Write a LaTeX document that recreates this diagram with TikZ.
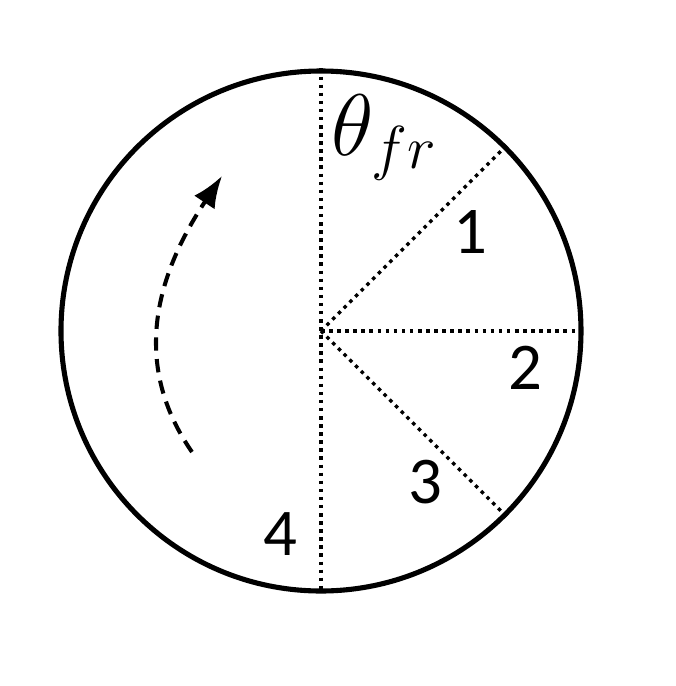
\documentclass[tikz,border=0pt]{standalone}
\usepackage{fontspec}
\setmainfont{Carlito}
\usetikzlibrary{arrows.meta}
\begin{document}
\begin{tikzpicture}[line width=1.45pt]
		\tikzset{spoke/.style={line width=1pt, dash pattern=on 1pt off 1.3pt},
			sector/.style={font=\fontsize{19}{22}\selectfont}}
		\useasboundingbox (-3.21,-3.55) rectangle (3.55,3.31);
		%wheel
		\node[circle, draw, minimum size=5.2cm, inner sep=0pt] (rim) at (0,0){};
		\coordinate (o) at (0,0);
		\draw[spoke] (rim.90) -- (rim.270);
		\foreach \a in {45, 0, -45}{
			\draw[spoke] (o) -- (rim.\a);
		}
		%labels
		\node[anchor=base west, inner sep=0pt] (angle) at (0.08,1.76){\fontsize{25}{30}\selectfont$\theta_{fr}$};
		\node[sector] (s1) at (1.49, 0.99){1};
		\node[sector] (s2) at (2.04, -0.37){2};
		\node[sector] (s3) at (1.04, -1.51){3};
		\node[sector] (s4) at (-0.41, -2.03){4};
		%rotation
		\coordinate (r0) at (-1.29,-1.21);
		\coordinate (r1) at (-0.99,1.55);
		\draw[-{Latex[length=9pt,width=7pt]}, line width=1.15pt, dash pattern=on 3.8pt off 2.4pt] (r0) .. controls (-1.85,-0.4) and (-1.72,0.45) .. (r1);
\end{tikzpicture}
\end{document}
